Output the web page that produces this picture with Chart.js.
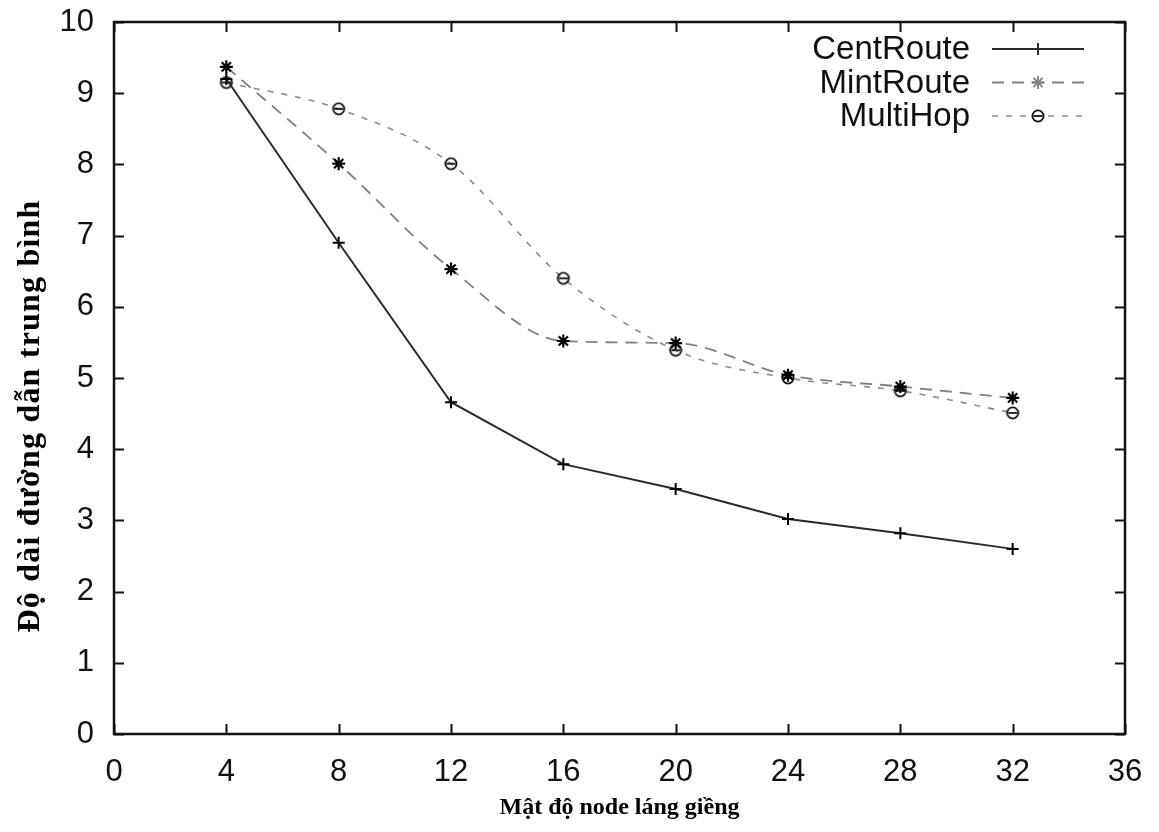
<!DOCTYPE html>
<html>
<head>
<meta charset="utf-8">
<script src="https://cdn.jsdelivr.net/npm/chart.js@4"></script>
<style>
  html, body { margin: 0; padding: 0; background: #fff; }
  #wrap { width: 1159px; height: 832px; }
</style>
</head>
<body>
<div id="wrap"><canvas id="chart" width="1159" height="832"></canvas></div>
<script>
// Dữ liệu
const densities = [4, 8, 12, 16, 20, 24, 28, 32];
const centRoute = [9.2, 6.9, 4.66, 3.79, 3.44, 3.02, 2.82, 2.6];
const mintRoute = [9.37, 8.01, 6.53, 5.52, 5.49, 5.04, 4.88, 4.72];
const multiHop = [9.15, 8.78, 8.01, 6.4, 5.39, 5.0, 4.82, 4.51];
const xTicks = [0, 4, 8, 12, 16, 20, 24, 28, 32, 36];
const yTicks = [0, 1, 2, 3, 4, 5, 6, 7, 8, 9, 10];
const yTitle = 'Độ dài đường dẫn trung bình';
const xTitle = 'Mật độ node láng giềng';

const toXY = (vals) => vals.map((v, i) => ({ x: densities[i], y: v }));

// Marker hình tròn có gạch ngang (kiểu gnuplot)
function circleBar() {
  const c = document.createElement('canvas');
  c.width = 16; c.height = 16;
  const g = c.getContext('2d');
  g.strokeStyle = '#111';
  g.lineWidth = 1.8;
  g.beginPath(); g.arc(8, 8, 5.6, 0, Math.PI * 2); g.stroke();
  g.beginPath(); g.moveTo(3.5, 8); g.lineTo(12.5, 8); g.stroke();
  return c;
}
const circleMarker = circleBar();

// Khung và vạch chia hướng vào trong, ở cả 4 cạnh
const frameTicks = {
  id: 'frameTicks',
  afterDraw(chart) {
    const { ctx, chartArea: a, scales } = chart;
    ctx.save();
    ctx.strokeStyle = '#111';
    ctx.lineWidth = 2;
    const len = 10;
    ctx.beginPath();
    xTicks.forEach(t => {
      const px = Math.round(scales.x.getPixelForValue(t)) + 0.5;
      ctx.moveTo(px, a.bottom); ctx.lineTo(px, a.bottom - len);
      ctx.moveTo(px, a.top); ctx.lineTo(px, a.top + len);
    });
    yTicks.forEach(t => {
      const py = Math.round(scales.y.getPixelForValue(t)) + 0.5;
      ctx.moveTo(a.left, py); ctx.lineTo(a.left + len, py);
      ctx.moveTo(a.right, py); ctx.lineTo(a.right - len, py);
    });
    ctx.stroke();
    ctx.lineWidth = 2.5;
    ctx.strokeRect(a.left, a.top, a.right - a.left, a.bottom - a.top);
    ctx.restore();
  }
};

// Tiêu đề trục tung (vẽ tay để đặt đúng vị trí như hình gốc)
const yTitlePlugin = {
  id: 'yTitlePlugin',
  afterDraw(chart) {
    const { ctx } = chart;
    ctx.save();
    ctx.translate(31, 416);
    ctx.rotate(-Math.PI / 2);
    ctx.font = 'bold 32px "Liberation Serif", "Times New Roman", serif';
    if ('letterSpacing' in ctx) ctx.letterSpacing = '1.2px';
    ctx.fillStyle = '#000';
    ctx.textAlign = 'center';
    ctx.textBaseline = 'middle';
    ctx.fillText(yTitle, 0, 0);
    ctx.restore();
  }
};

// Chú thích kiểu gnuplot: chữ căn phải, mẫu đường kẻ bên phải
const gnuLegend = {
  id: 'gnuLegend',
  afterDatasetsDraw(chart) {
    const { ctx } = chart;
    const textRight = 970, lineL = 992, lineR = 1084, y0 = 49, step = 33.5;
    ctx.save();
    chart.data.datasets.forEach((ds, i) => {
      const y = y0 + i * step;
      ctx.font = '33px "Liberation Sans", Arial, sans-serif';
      ctx.fillStyle = '#111';
      ctx.textAlign = 'right';
      ctx.textBaseline = 'middle';
      ctx.fillText(ds.label, textRight, y + 1);
      ctx.strokeStyle = ds.borderColor;
      ctx.lineWidth = ds.borderWidth;
      ctx.setLineDash(ds.borderDash || []);
      ctx.beginPath(); ctx.moveTo(lineL, y); ctx.lineTo(lineR, y); ctx.stroke();
      ctx.setLineDash([]);
      Chart.helpers.drawPoint(ctx, {
        pointStyle: ds.pointStyle, radius: ds.pointRadius, rotation: 0,
        borderWidth: ds.pointBorderWidth || 1.8, borderColor: '#111', backgroundColor: 'transparent'
      }, (lineL + lineR) / 2, y);
    });
    ctx.restore();
  }
};

new Chart(document.getElementById('chart').getContext('2d'), {
  type: 'line',
  data: {
    datasets: [{
      label: 'CentRoute',
      data: toXY(centRoute),
      borderColor: '#2a2a2a',
      borderWidth: 2,
      pointStyle: 'cross',
      pointRadius: 6,
      pointBorderColor: '#000',
      pointBorderWidth: 2,
      tension: 0
    }, {
      label: 'MintRoute',
      data: toXY(mintRoute),
      borderColor: '#808080',
      borderWidth: 1.8,
      borderDash: [12, 8],
      pointStyle: 'star',
      pointRadius: 6.5,
      pointBorderColor: '#000',
      pointBorderWidth: 2.2,
      cubicInterpolationMode: 'monotone'
    }, {
      label: 'MultiHop',
      data: toXY(multiHop),
      borderColor: '#8c8c8c',
      borderWidth: 1.6,
      borderDash: [6, 8],
      pointStyle: circleMarker,
      pointRadius: 6,
      cubicInterpolationMode: 'monotone'
    }]
  },
  options: {
    responsive: false,
    animation: false,
    layout: { padding: { left: 0, right: 34, top: 22, bottom: 0 } },
    plugins: { legend: { display: false }, tooltip: { enabled: false } },
    scales: {
      x: {
        type: 'linear',
        min: 0, max: 36,
        afterFit: (s) => { s.height = 98; s.paddingLeft = 0; s.paddingRight = 0; },
        afterBuildTicks: (s) => { s.ticks = xTicks.map(v => ({ value: v })); },
        grid: { display: false, drawTicks: false },
        border: { display: false },
        ticks: {
          padding: 20,
          color: '#111',
          maxRotation: 0,
          font: { family: '"Liberation Sans", Arial, sans-serif', size: 31 }
        },
        title: {
          display: true,
          text: xTitle,
          color: '#000',
          font: { family: '"Liberation Serif", "Times New Roman", serif', size: 24, weight: 'bold' },
          padding: { top: 0, bottom: 10 }
        }
      },
      y: {
        min: 0, max: 10,
        afterFit: (s) => { s.width = 114; s.paddingTop = 0; s.paddingBottom = 0; },
        afterBuildTicks: (s) => { s.ticks = yTicks.map(v => ({ value: v })); },
        grid: { display: false, drawTicks: false },
        border: { display: false },
        ticks: {
          padding: 20,
          color: '#111',
          font: { family: '"Liberation Sans", Arial, sans-serif', size: 31 }
        },
        title: { display: false }
      }
    }
  },
  plugins: [frameTicks, yTitlePlugin, gnuLegend]
});
</script>
</body>
</html>
